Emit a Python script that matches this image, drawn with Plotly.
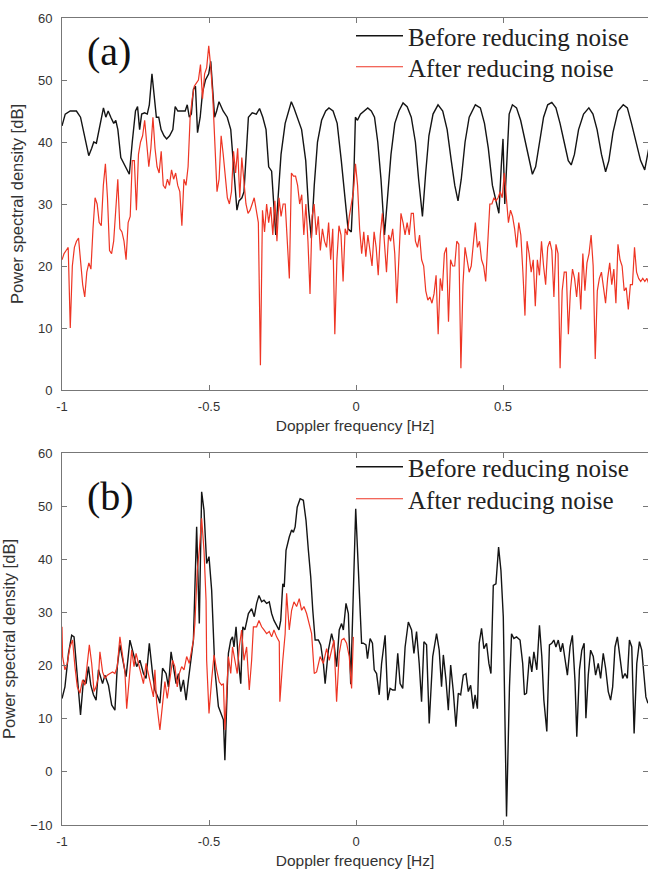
import plotly.graph_objects as go

# ---------------- Panel (a) data ----------------
black_a_freq = [-1.000, -0.989, -0.972, -0.951, -0.937, -0.923, -0.909, -0.899, -0.892, -0.883,
                -0.873, -0.859, -0.851, -0.843, -0.834, -0.824, -0.817, -0.810, -0.800, -0.789,
                -0.782, -0.771, -0.761, -0.750, -0.743, -0.736, -0.729, -0.719, -0.710, -0.703,
                -0.694, -0.687, -0.679, -0.671, -0.663, -0.653, -0.644, -0.634, -0.623, -0.615,
                -0.606, -0.592, -0.581, -0.574, -0.567, -0.560, -0.553, -0.546, -0.539, -0.530,
                -0.522, -0.512, -0.501, -0.494, -0.488, -0.481, -0.474, -0.466, -0.452, -0.438,
                -0.426, -0.419, -0.412, -0.405, -0.398, -0.388, -0.381, -0.374, -0.366, -0.353,
                -0.339, -0.328, -0.317, -0.306, -0.297, -0.287, -0.279, -0.273, -0.265, -0.255,
                -0.241, -0.230, -0.220, -0.211, -0.199, -0.185, -0.171, -0.161, -0.152, -0.142,
                -0.131, -0.117, -0.103, -0.092, -0.078, -0.064, -0.050, -0.036, -0.027, -0.016,
                -0.007, -0.002, 0.005, 0.015, 0.026, 0.040, 0.052, 0.063, 0.074, 0.085,
                0.097, 0.108, 0.119, 0.132, 0.146, 0.160, 0.174, 0.188, 0.202, 0.213,
                0.226, 0.237, 0.248, 0.262, 0.279, 0.295, 0.310, 0.324, 0.336, 0.347,
                0.358, 0.371, 0.385, 0.406, 0.423, 0.437, 0.450, 0.464, 0.476, 0.486,
                0.494, 0.500, 0.506, 0.513, 0.521, 0.532, 0.546, 0.560, 0.574, 0.589,
                0.600, 0.611, 0.624, 0.638, 0.652, 0.666, 0.680, 0.694, 0.708, 0.722,
                0.732, 0.743, 0.757, 0.774, 0.792, 0.806, 0.820, 0.835, 0.849, 0.860,
                0.874, 0.891, 0.909, 0.923, 0.937, 0.954, 0.968, 0.982, 0.993, 1.000]
black_a_psd = [42.6, 44.5, 45, 45, 44, 41, 37.8, 39, 40, 39.8,
               42, 45.5, 44, 45, 44, 43, 43.5, 42, 37.5, 36.5,
               36, 34.8, 40, 45, 45.7, 42, 44.5, 44.7, 44.5, 46,
               51, 48, 44, 44, 42, 41, 40.5, 41, 42, 45.7,
               45, 45, 45, 46, 44, 44.5, 48.5, 49, 41.5, 44,
               48, 50, 51, 53, 49, 44, 45, 46.5, 45, 44,
               42, 38, 33, 29, 30.5, 31, 32, 38, 44, 44.7,
               44.5, 45.4, 44, 42, 36, 35.3, 30, 25, 31, 38,
               43, 45, 46.5, 45.5, 44, 42, 37, 29, 24.5, 33,
               40, 43.5, 45, 45.5, 45, 43, 37, 30, 26, 25.5,
               35, 44, 43.5, 44.5, 45, 45.5, 45, 44, 40, 34,
               25, 32, 38, 43, 45, 46.3, 45.7, 44, 40, 34,
               28, 35, 41, 44.5, 46, 45, 42, 37, 33, 30.5,
               34, 40, 44, 46, 45.5, 43, 39, 33, 30.5, 28.5,
               36, 40.5, 30, 38, 44.5, 46, 45.5, 43.5, 40.5, 37,
               34.8, 36, 40, 44, 46, 46.4, 45.5, 43, 40, 37,
               36.3, 38, 42, 44.5, 45.5, 44.5, 42, 38, 35.2, 37,
               41.5, 45, 46, 45.5, 43, 39.5, 37, 35.5, 38.5, 40]

# red (a): uniformly spaced frequency bins starting at -1 Hz
red_a_start = -1.0
red_a_step = 0.00703
red_a_psd = [21, 22, 22.5, 23, 10, 20, 23, 24, 24.5, 20,
             17, 15, 19, 20.5, 19.5, 26, 31, 30, 27, 26.5,
             33, 36.5, 31, 22.5, 22, 24, 30, 34, 26, 25.5,
             24, 21, 27, 28, 37, 37, 29, 38, 40, 41,
             43.5, 40, 36, 39, 44, 39, 36, 35, 38.5, 33,
             32.5, 34, 33, 35.5, 34, 35, 33, 32, 26.5, 34,
             33, 36, 44, 47, 49, 49.5, 50, 52.5, 47, 51,
             52, 55.5, 52, 47, 40, 32, 34, 41, 38, 35,
             31, 30, 32, 38.5, 35, 39, 31, 37.5, 34, 30,
             28.5, 29, 30, 31, 29, 27, 4, 29, 25.5, 30,
             27, 29.5, 25, 30.5, 24, 31, 28, 30,
             30, 24, 18, 35, 34.5, 34.5, 33, 30, 31.5, 25,
             30, 24, 15.5, 28, 30, 25, 28, 22.5, 26, 24,
             23, 27, 21, 26, 9, 21, 26.5, 25, 17.5, 26,
             25, 28, 30, 32, 36.5, 33, 26, 22, 25.5, 21.5,
             25, 22, 20, 25.5, 23, 18.5, 25, 28.5, 24, 19,
             25, 24, 26, 22,
             14, 22, 28.5, 27, 25, 27, 25, 28.5, 28.5, 24,
             23, 25, 21, 20, 16, 14.5, 15, 14, 15.5, 18.5,
             9, 18, 16, 22, 23, 11, 21, 20, 20, 24,
             23.5, 3.5, 17, 23, 21, 19, 20, 24, 27, 23,
             24, 21, 20, 17.5, 24, 30, 30, 31, 30.5, 31,
             32, 31, 35, 31, 27, 29, 28, 26, 23, 27,
             25, 19, 12, 24, 22, 19, 21, 13.5, 21, 18.5,
             24, 20, 17, 23, 24, 22.5, 15, 23.5, 22, 3.5,
             16, 19, 19, 9, 16, 19.5, 18, 15, 19, 13,
             22, 16, 20.5, 22, 25, 20, 5, 16, 18, 19,
             16, 14, 18, 20.5, 17, 19.5, 14, 23.5, 21, 20,
             16, 16.5, 13, 17, 17, 23, 19, 18, 17.5, 18,
             17.5, 18, 17, 18, 18]

# ---------------- Panel (b) data ----------------
black_b_freq = [-1.000, -0.990, -0.978, -0.967, -0.959, -0.950, -0.944, -0.937, -0.927, -0.918,
                -0.910, -0.902, -0.893, -0.884, -0.876, -0.871, -0.862, -0.854, -0.842, -0.831,
                -0.820, -0.812, -0.803, -0.791, -0.782, -0.769, -0.757, -0.746, -0.735, -0.723,
                -0.714, -0.703, -0.692, -0.684, -0.672, -0.667, -0.658, -0.646, -0.638, -0.629,
                -0.621, -0.612, -0.604, -0.596, -0.587, -0.578, -0.570, -0.562, -0.553, -0.542,
                -0.533, -0.525, -0.517, -0.508, -0.500, -0.491, -0.480, -0.468, -0.457, -0.451,
                -0.446, -0.440, -0.434, -0.426, -0.420, -0.415, -0.408, -0.400, -0.392, -0.385,
                -0.378, -0.366, -0.355, -0.346, -0.338, -0.330, -0.321, -0.313, -0.304, -0.295,
                -0.287, -0.279, -0.270, -0.262, -0.256, -0.249, -0.244, -0.238, -0.227, -0.219,
                -0.213, -0.207, -0.200, -0.190, -0.179, -0.170, -0.162, -0.154, -0.147, -0.139,
                -0.128, -0.120, -0.111, -0.105, -0.094, -0.083, -0.075, -0.066, -0.057, -0.049,
                -0.043, -0.034, -0.026, -0.018, -0.001, 0.019, 0.025, 0.034, 0.039, 0.048,
                0.056, 0.062, 0.070, 0.079, 0.087, 0.099, 0.108, 0.116, 0.125, 0.133,
                0.142, 0.150, 0.159, 0.167, 0.178, 0.189, 0.197, 0.206, 0.215, 0.223,
                0.231, 0.240, 0.249, 0.261, 0.274, 0.283, 0.291, 0.297, 0.306, 0.314,
                0.322, 0.331, 0.340, 0.348, 0.356, 0.365, 0.374, 0.382, 0.390, 0.399,
                0.405, 0.413, 0.419, 0.427, 0.435, 0.444, 0.452, 0.459, 0.467, 0.476,
                0.485, 0.493, 0.501, 0.512, 0.522, 0.529, 0.537, 0.546, 0.558, 0.567,
                0.573, 0.580, 0.590, 0.598, 0.605, 0.615, 0.624, 0.632, 0.639, 0.649,
                0.658, 0.666, 0.673, 0.680, 0.688, 0.696, 0.703, 0.711, 0.719, 0.728,
                0.736, 0.745, 0.751, 0.760, 0.768, 0.776, 0.782, 0.790, 0.798, 0.807,
                0.815, 0.824, 0.832, 0.841, 0.849, 0.858, 0.866, 0.873, 0.881, 0.889,
                0.898, 0.907, 0.915, 0.923, 0.930, 0.938, 0.946, 0.955, 0.964, 0.972,
                0.980, 0.986, 0.993]
black_b_psd = [13.8, 16.0, 22.3, 25.7, 25.4, 19.2, 15.1, 10.7, 17.3, 16.6,
               19.8, 16.3, 14.5, 13.5, 19.2, 18.2, 16.6, 18.2, 16.3, 12.6,
               11.6, 19.8, 23.9, 20.4, 17.9, 24.8, 22.3, 19.8, 21.0, 18.5,
               17.6, 24.2, 18.5, 15.4, 13.8, 12.9, 19.5, 18.5, 16.0, 22.6,
               19.8, 16.6, 18.5, 15.1, 17.3, 13.5, 17.3, 21.0, 24.8, 46.1,
               27.9, 52.7, 49.2, 39.2, 40.5, 34.2, 19.2, 12.3, 10.4, 9.8,
               2.2, 12.9, 22.3, 24.8, 25.4, 23.5, 27.3, 21.0, 16.6, 27.3,
               26.7, 29.8, 30.7, 29.2, 31.7, 33.2, 32.0, 32.3, 31.7, 32.0,
               29.8, 28.5, 27.6, 26.7, 28.5, 35.4, 34.8, 41.7, 44.2, 45.5,
               45.1, 46.1, 49.8, 51.4, 51.1, 47.3, 41.7, 36.7, 30.4, 24.8,
               24.8, 23.9, 20.4, 16.6, 22.9, 26.0, 24.2, 19.8, 26.7, 27.9,
               26.7, 31.7, 29.8, 16.5, 49.5, 24.2, 24.2, 23.9, 21.3, 25.1,
               24.2, 19.2, 18.5, 14.5, 20.4, 25.7, 13.5, 15.7, 15.4, 15.4,
               22.3, 16.6, 15.7, 23.5, 28.2, 26.7, 22.3, 26.4, 20.4, 13.2,
               24.5, 23.9, 9.1, 21.7, 26.0, 22.9, 16.0, 22.0, 17.3, 11.6,
               20.1, 15.1, 8.5, 14.8, 14.5, 18.2, 18.5, 15.1, 16.3, 11.9,
               14.5, 11.9, 24.2, 27.0, 23.2, 24.2, 20.4, 18.5, 35.1, 35.4,
               42.3, 37.9, 29.2, -8.4, 16.0, 26.0, 25.1, 25.4, 24.8, 20.4,
               14.5, 14.8, 21.7, 18.8, 22.6, 19.2, 27.6, 21.7, 13.5, 7.6,
               23.9, 24.2, 24.8, 23.5, 24.8, 22.6, 24.2, 21.0, 18.2, 23.5,
               25.7, 17.0, 6.6, 19.2, 22.9, 24.2, 10.1, 18.2, 22.9, 21.7,
               18.2, 20.4, 17.6, 22.3, 19.5, 15.1, 13.5, 16.0, 23.5, 25.4,
               21.7, 17.6, 18.5, 17.6, 24.8, 23.5, 7.2, 20.4, 24.5, 22.9,
               17.9, 14.1, 12.9]

red_b_freq = [-1.000, -0.998, -0.990, -0.982, -0.973, -0.964, -0.956, -0.948, -0.939, -0.930,
              -0.922, -0.914, -0.907, -0.899, -0.891, -0.884, -0.876, -0.871, -0.862, -0.854,
              -0.846, -0.837, -0.828, -0.820, -0.812, -0.803, -0.794, -0.786, -0.780, -0.771,
              -0.763, -0.755, -0.748, -0.740, -0.732, -0.723, -0.714, -0.706, -0.698, -0.689,
              -0.684, -0.678, -0.667, -0.658, -0.650, -0.642, -0.633, -0.624, -0.616, -0.608,
              -0.601, -0.593, -0.585, -0.576, -0.567, -0.559, -0.553, -0.548, -0.540, -0.533,
              -0.525, -0.517, -0.510, -0.508, -0.500, -0.491, -0.483, -0.474, -0.465, -0.457,
              -0.451, -0.446, -0.440, -0.434, -0.426, -0.420, -0.412, -0.404, -0.397, -0.389,
              -0.381, -0.372, -0.363, -0.355, -0.349, -0.338, -0.330, -0.321, -0.313, -0.304,
              -0.295, -0.287, -0.279, -0.270, -0.261, -0.259, -0.249, -0.241, -0.236, -0.227,
              -0.219, -0.211, -0.202, -0.193, -0.185, -0.177, -0.168, -0.159, -0.151, -0.142,
              -0.134, -0.122, -0.111, -0.100, -0.091, -0.083, -0.075, -0.066, -0.057, -0.049,
              -0.041, -0.032, -0.023, -0.015, -0.009]
red_b_psd = [27.3, 21.7, 19.2, 20.4, 23.5, 24.8, 19.8, 16.0, 14.8, 17.3,
             16.3, 20.4, 23.9, 20.4, 15.1, 16.0, 17.9, 22.6, 18.8, 17.6,
             18.2, 18.5, 18.8, 18.5, 19.8, 25.4, 22.3, 18.8, 11.9, 18.2,
             22.9, 19.8, 22.3, 20.4, 18.5, 16.6, 20.4, 18.5, 16.0, 14.1,
             19.2, 12.9, 7.9, 13.5, 17.0, 13.8, 17.9, 21.0, 19.8, 16.0,
             18.5, 19.8, 19.2, 21.7, 20.4, 22.9, 24.8, 27.9, 37.9, 41.7,
             47.7, 41.7, 32.3, 21.0, 11.0, 17.3, 22.0, 19.2, 16.9, 16.3,
             16.6, 7.9, 16.0, 21.7, 18.5, 23.5, 21.0, 18.5, 23.5, 26.7,
             21.0, 23.5, 15.4, 21.0, 27.3, 27.3, 28.5, 27.3, 26.7, 26.0,
             26.4, 25.4, 26.7, 25.4, 24.5, 13.2, 21.0, 26.0, 33.6, 26.7,
             30.4, 32.0, 31.1, 32.6, 30.4, 31.1, 29.8, 27.9, 26.0, 18.5,
             18.8, 21.7, 20.4, 23.2, 21.0, 22.9, 24.8, 13.2, 22.3, 24.8,
             25.1, 24.2, 21.7, 15.7, 25.4]

x_ticks = [-1, -0.5, 0, 0.5, 1]
x_tick_labels = ["-1", "-0.5", "0", "0.5", "1"]
y_ticks_a = [0, 10, 20, 30, 40, 50, 60]
y_ticks_b = [-10, 0, 10, 20, 30, 40, 50, 60]

legend_names = ["Before reducing noise", "After reducing noise"]
panel_labels = ["(a)", "(b)"]

BLACK = "#141414"
RED = "#ee3524"
W, H = 648, 875
L = 62
PW = W - L

fig = go.Figure()
fig.add_trace(go.Scatter(x=black_a_freq, y=black_a_psd, mode="lines", name=legend_names[0],
                         line=dict(color=BLACK, width=1.4), xaxis="x", yaxis="y",
                         legend="legend", showlegend=True))
fig.add_trace(go.Scatter(x0=red_a_start, dx=red_a_step, y=red_a_psd, mode="lines", name=legend_names[1],
                         line=dict(color=RED, width=1.2), xaxis="x", yaxis="y",
                         legend="legend2", showlegend=True))
fig.add_trace(go.Scatter(x=black_b_freq, y=black_b_psd, mode="lines", name=legend_names[0],
                         line=dict(color=BLACK, width=1.4), xaxis="x2", yaxis="y2",
                         legend="legend3", showlegend=True))
fig.add_trace(go.Scatter(x=red_b_freq, y=red_b_psd, mode="lines", name=legend_names[1],
                         line=dict(color=RED, width=1.2), xaxis="x2", yaxis="y2",
                         legend="legend4", showlegend=True))

SANS = "Liberation Sans, Arial, sans-serif"
SERIF = "Liberation Serif, Times New Roman, serif"
tick_font = dict(family=SANS, size=13, color="#333")
xr = [-1, -1 + PW / 294]

def xaxis(anchor):
    return dict(anchor=anchor, domain=[0, 1], range=xr, tickvals=x_ticks, ticktext=x_tick_labels,
                ticks="inside", ticklen=5, tickcolor="#777", showline=True, linecolor="#777",
                linewidth=1, mirror="ticks", showgrid=False, zeroline=False, tickfont=tick_font,
                automargin=False, ticklabelstandoff=4,
                title=dict(text="Doppler frequency [Hz]", font=dict(family=SANS, size=15.5, color="#333"),
                           standoff=7))

def yaxis(anchor, dom, rng, tv):
    return dict(anchor=anchor, domain=dom, range=rng, tickvals=tv, ticks="inside", ticklen=5,
                tickcolor="#777", showline=True, linecolor="#777", linewidth=1, mirror="ticks",
                showgrid=False, zeroline=False, tickfont=tick_font, automargin=False,
                ticklabelstandoff=6,
                title=dict(text="Power spectral density [dB]", font=dict(family=SANS, size=16.5, color="#333"),
                           standoff=10))

dom_a = [1 - 390 / H, 1 - 18 / H]
dom_b = [1 - 825 / H, 1 - 453 / H]

legend_font = dict(family=SERIF, size=25, color="#222")
leg_x = (351 - L) / PW

def leg(row_y):
    return dict(x=leg_x, y=1 - row_y / H, xanchor="left", yanchor="middle", font=legend_font,
                bgcolor="rgba(0,0,0,0)", itemwidth=47, visible=True)

fig.update_layout(
    width=W, height=H,
    showlegend=True,
    margin=dict(l=L, r=0, t=0, b=0, autoexpand=False),
    paper_bgcolor="white", plot_bgcolor="white",
    xaxis=xaxis("y"), yaxis=yaxis("x", dom_a, [0, 60], y_ticks_a),
    xaxis2=xaxis("y2"), yaxis2=yaxis("x2", dom_b, [-10, 60], y_ticks_b),
    legend=leg(36), legend2=leg(67), legend3=leg(467), legend4=leg(499),
    annotations=[
        dict(text=panel_labels[0], xref="paper", yref="paper", x=(109 - L) / PW, y=1 - 52 / H,
             xanchor="center", yanchor="middle", showarrow=False,
             font=dict(family=SERIF, size=40, color="#111")),
        dict(text=panel_labels[1], xref="paper", yref="paper", x=(110 - L) / PW, y=1 - 497 / H,
             xanchor="center", yanchor="middle", showarrow=False,
             font=dict(family=SERIF, size=40, color="#111")),
    ],
)

fig.write_html("out.html", config={"displayModeBar": False},
               post_script="document.body.style.margin='0';document.body.style.overflow='hidden';")
